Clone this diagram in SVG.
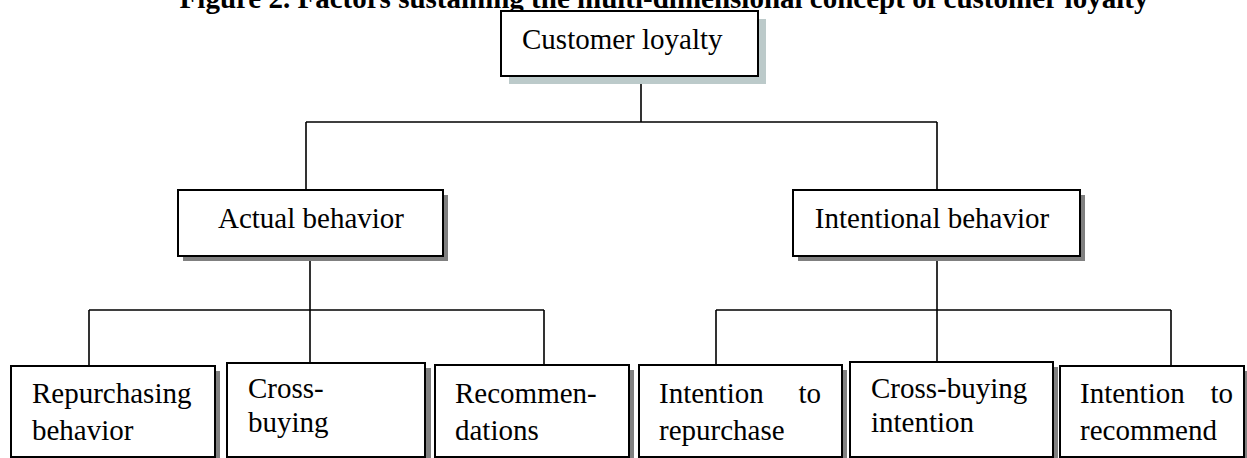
<svg xmlns="http://www.w3.org/2000/svg" width="1247" height="458" viewBox="0 0 1247 458">
<style>
.box{fill:#fff;stroke:#000;stroke-width:2}
.sh{fill:#808080}
.sh2{fill:#bccaca}
.t{font-family:"Liberation Serif","Times New Roman",serif;font-size:29px;fill:#000}
.ttl{font-family:"Liberation Serif","Times New Roman",serif;font-size:29px;font-weight:bold;fill:#000}
.c{fill:none;stroke:#000;stroke-width:1.6}
</style>
<rect width="1247" height="458" fill="#fff"/>
<text class="ttl" x="664" y="8" text-anchor="middle">Figure 2. Factors sustaining the multi-dimensional concept of customer loyalty</text>
<g id="connectors">
<path class="c" d="M641 76V122M306 122H937M306 122V190M937 122V190"/>
<path class="c" d="M310 256V363M89 310H544M89 310V366M544 310V365"/>
<path class="c" d="M937 256V362M716 310H1171M716 310V365M1171 310V366"/>
</g>
<g id="customer-loyalty">
<rect class="sh2" x="509" y="19" width="257" height="65"/>
<rect class="box" x="501" y="11" width="257" height="65"/>
<text class="t" x="522" y="49">Customer loyalty</text>
</g>
<g id="actual-behavior">
<rect class="sh" x="183" y="195" width="265" height="66"/>
<rect class="box" x="178" y="190" width="265" height="66"/>
<text class="t" x="311" y="228" text-anchor="middle">Actual behavior</text>
</g>
<g id="intentional-behavior">
<rect class="sh" x="798" y="195" width="287" height="66"/>
<rect class="box" x="793" y="190" width="287" height="66"/>
<text class="t" x="932" y="228" text-anchor="middle">Intentional behavior</text>
</g>
<g id="repurchasing-behavior">
<rect class="sh" x="16" y="371" width="204" height="95"/>
<rect class="box" x="11" y="366" width="204" height="91"/>
<text class="t" x="32" y="403">Repurchasing</text>
<text class="t" x="32" y="440">behavior</text>
</g>
<g id="cross-buying">
<rect class="sh" x="232" y="368" width="199" height="95"/>
<rect class="box" x="227" y="363" width="198" height="94"/>
<text class="t" x="248" y="398">Cross-</text>
<text class="t" x="248" y="432">buying</text>
</g>
<g id="recommendations">
<rect class="sh" x="440" y="370" width="194" height="95"/>
<rect class="box" x="435" y="365" width="194" height="92"/>
<text class="t" x="455" y="403">Recommen-</text>
<text class="t" x="455" y="440">dations</text>
</g>
<g id="intention-to-repurchase">
<rect class="sh" x="644" y="370" width="203" height="95"/>
<rect class="box" x="639" y="365" width="203" height="92"/>
<text class="t" x="659" y="403">Intention</text>
<text class="t" x="821" y="403" text-anchor="end">to</text>
<text class="t" x="659" y="440">repurchase</text>
</g>
<g id="cross-buying-intention">
<rect class="sh" x="855" y="367" width="203" height="95"/>
<rect class="box" x="850" y="362" width="203" height="95"/>
<text class="t" x="871" y="398">Cross-buying</text>
<text class="t" x="871" y="432">intention</text>
</g>
<g id="intention-to-recommend">
<rect class="sh" x="1065" y="371" width="184" height="95"/>
<rect class="box" x="1060" y="366" width="184" height="91"/>
<text class="t" x="1080" y="403">Intention</text>
<text class="t" x="1233" y="403" text-anchor="end">to</text>
<text class="t" x="1080" y="440">recommend</text>
</g>
</svg>
